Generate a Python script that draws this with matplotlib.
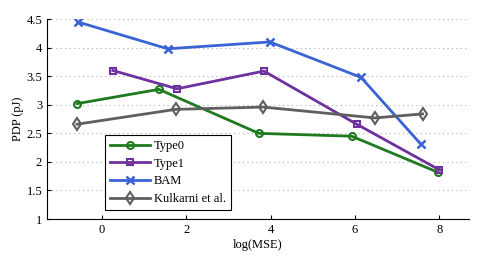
import matplotlib
matplotlib.use('Agg')
import matplotlib.pyplot as plt

plt.rcParams['font.family'] = ['Liberation Serif', 'DejaVu Serif']
plt.rcParams['font.size'] = 9

# data
type0_x = [-0.59, 1.35, 3.72, 5.92, 7.96]
type0_y = [3.02, 3.27, 2.50, 2.45, 1.82]

type1_x = [0.26, 1.78, 3.84, 6.04, 8.00]
type1_y = [3.60, 3.28, 3.59, 2.66, 1.86]

bam_x = [-0.57, 1.56, 3.98, 6.14, 7.56]
bam_y = [4.45, 3.98, 4.10, 3.48, 2.31]

kul_x = [-0.59, 1.75, 3.82, 6.47, 7.60]
kul_y = [2.66, 2.92, 2.96, 2.77, 2.84]

fig = plt.figure(figsize=(4.85, 2.58), dpi=100)
ax = fig.add_axes([0.097, 0.151, 0.870, 0.775])

ax.plot(type0_x, type0_y, marker='o', color='#1f7a1f', lw=2, ms=5, mfc='none', mew=1.5, label='Type0')
ax.plot(type1_x, type1_y, marker='s', color='#6f31a0', lw=2, ms=5, mfc='none', mew=1.5, label='Type1')
ax.plot(bam_x, bam_y, marker='x', color='#3a63d3', lw=2, ms=6, mew=1.8, label='BAM')
ax.plot(kul_x, kul_y, marker='d', color='#5f5f5f', lw=2, ms=6, mfc='none', mew=1.5, label='Kulkarni et al.')

ax.set_xlim(-1.3, 8.7)
ax.set_ylim(1, 4.5)
ax.set_xticks([0, 2, 4, 6, 8])
ax.set_yticks([1, 1.5, 2, 2.5, 3, 3.5, 4, 4.5])
ax.set_yticklabels(['1', '1.5', '2', '2.5', '3', '3.5', '4', '4.5'])
ax.tick_params(direction='in', length=3)
ax.grid(axis='y', linestyle=(0, (1, 3)), color='#b0b0b0', lw=0.8)
ax.spines['top'].set_visible(False)
ax.spines['right'].set_visible(False)
ax.set_xlabel('log(MSE)', labelpad=2)
ax.set_ylabel('PDP (pJ)', labelpad=2)

leg = ax.legend(loc='lower left', bbox_to_anchor=(0.137, 0.045), fancybox=False,
                edgecolor='black', framealpha=1, handlelength=3.2, borderpad=0.4,
                labelspacing=0.45, handletextpad=0.3, borderaxespad=0)
leg.get_frame().set_linewidth(0.8)

fig.savefig('out.png', dpi=100)
